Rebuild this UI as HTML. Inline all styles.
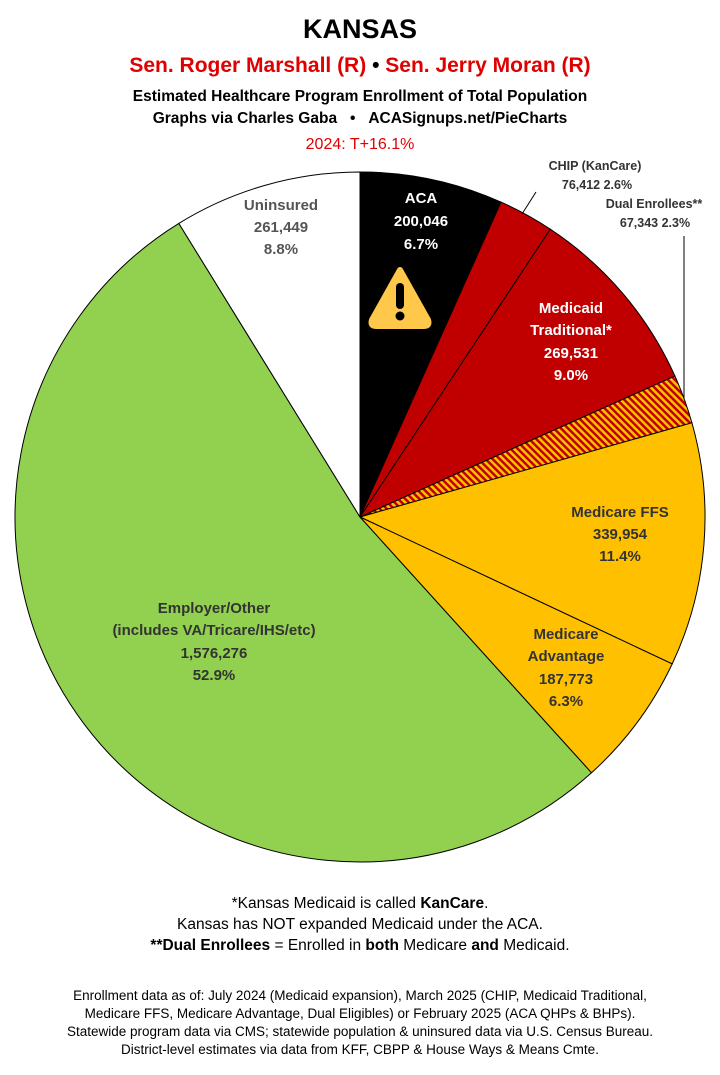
<!DOCTYPE html>
<html><head><meta charset="utf-8">
<style>
html,body{margin:0;padding:0;background:#fff;}
body{width:720px;height:1070px;overflow:hidden;font-family:"Liberation Sans",sans-serif;}
</style></head><body>
<svg width="720" height="1070" viewBox="0 0 720 1070" xmlns="http://www.w3.org/2000/svg" font-family="Liberation Sans, sans-serif">
<defs>
<pattern id="hatch" width="5" height="5" patternUnits="userSpaceOnUse" patternTransform="rotate(-45)">
<rect width="5" height="5" fill="#c00000"/>
<rect width="2.5" height="5" fill="#ffc000"/>
</pattern>
</defs>
<text x="360" y="38" text-anchor="middle" font-size="27" font-weight="bold">KANSAS</text>
<text x="360" y="72" text-anchor="middle" font-size="21" font-weight="bold" fill="#e00000">Sen. Roger Marshall (R) <tspan fill="#000">•</tspan> Sen. Jerry Moran (R)</text>
<text x="360" y="101" text-anchor="middle" font-size="15.5" font-weight="bold">Estimated Healthcare Program Enrollment of Total Population</text>
<text x="360" y="123" text-anchor="middle" font-size="15.5" font-weight="bold">Graphs via Charles Gaba&#160;&#160;&#160;•&#160;&#160;&#160;ACASignups.net/PieCharts</text>
<text x="360" y="149" text-anchor="middle" font-size="16" fill="#e00000">2024: T+16.1%</text>

<g stroke="#000" stroke-width="1">
<path d="M360,517 L360,172 A345,345 0 0 1 501,202.1 Z" fill="#000"/>
<path d="M360,517 L501,202.1 A345,345 0 0 1 550.3,229.2 Z" fill="#c00000"/>
<path d="M360,517 L550.3,229.2 A345,345 0 0 1 674.9,376 Z" fill="#c00000"/>
<path d="M360,517 L674.9,376 A345,345 0 0 1 691.9,422.8 Z" fill="url(#hatch)"/>
<path d="M360,517 L691.9,422.8 A345,345 0 0 1 672.2,663.9 Z" fill="#ffc000"/>
<path d="M360,517 L672.2,663.9 A345,345 0 0 1 591.5,772.8 Z" fill="#ffc000"/>
<path d="M360,517 L591.5,772.8 A345,345 0 1 1 178.8,223.4 Z" fill="#92d050"/>
<path d="M360,517 L178.8,223.4 A345,345 0 0 1 360,172 Z" fill="#fff"/>
</g>
<line x1="536" y1="192" x2="522" y2="214" stroke="#000" stroke-width="1"/>
<line x1="684" y1="236" x2="684" y2="398" stroke="#000" stroke-width="1"/>

<g font-weight="bold" text-anchor="middle" font-size="15">
<g fill="#fff"><text x="421" y="203">ACA</text><text x="421" y="226">200,046</text><text x="421" y="249">6.7%</text></g>
<path d="M400,270 L428,320 Q430,326 424,326 L376,326 Q370,326 372,320 Z" fill="#ffc84a" stroke="#ffc84a" stroke-width="6" stroke-linejoin="round"/>
<rect x="396" y="283" width="8" height="26" rx="4" fill="#000"/><circle cx="400" cy="316" r="4.5" fill="#000"/>
<g fill="#fff"><text x="571" y="313">Medicaid</text><text x="571" y="335">Traditional*</text><text x="571" y="358">269,531</text><text x="571" y="380">9.0%</text></g>
<g fill="#333"><text x="620" y="517">Medicare FFS</text><text x="620" y="539">339,954</text><text x="620" y="561">11.4%</text></g>
<g fill="#333"><text x="566" y="639">Medicare</text><text x="566" y="661">Advantage</text><text x="566" y="684">187,773</text><text x="566" y="706">6.3%</text></g>
<g fill="#333"><text x="214" y="613">Employer/Other</text><text x="214" y="635">(includes VA/Tricare/IHS/etc)</text><text x="214" y="658">1,576,276</text><text x="214" y="680">52.9%</text></g>
<g fill="#555"><text x="281" y="210">Uninsured</text><text x="281" y="232">261,449</text><text x="281" y="254">8.8%</text></g>
</g>
<g font-weight="bold" font-size="12.5" fill="#333" text-anchor="middle">
<text x="595" y="170">CHIP (KanCare)</text><text x="597" y="189">76,412 2.6%</text>
<text x="654" y="208">Dual Enrollees**</text><text x="655" y="227">67,343 2.3%</text>
</g>

<g font-size="15.5" text-anchor="middle">
<text x="360" y="908">*Kansas Medicaid is called <tspan font-weight="bold">KanCare</tspan>.</text>
<text x="360" y="929">Kansas has NOT expanded Medicaid under the ACA.</text>
<text x="360" y="950"><tspan font-weight="bold">**Dual Enrollees</tspan> = Enrolled in <tspan font-weight="bold">both</tspan> Medicare <tspan font-weight="bold">and</tspan> Medicaid.</text>
</g>
<g font-size="13.5" text-anchor="middle">
<text x="360" y="1000">Enrollment data as of: July 2024 (Medicaid expansion), March 2025 (CHIP, Medicaid Traditional,</text>
<text x="360" y="1018">Medicare FFS, Medicare Advantage, Dual Eligibles) or February 2025 (ACA QHPs &amp; BHPs).</text>
<text x="360" y="1036">Statewide program data via CMS; statewide population &amp; uninsured data via U.S. Census Bureau.</text>
<text x="360" y="1054">District-level estimates via data from KFF, CBPP &amp; House Ways &amp; Means Cmte.</text>
</g>
</svg>
</body></html>
